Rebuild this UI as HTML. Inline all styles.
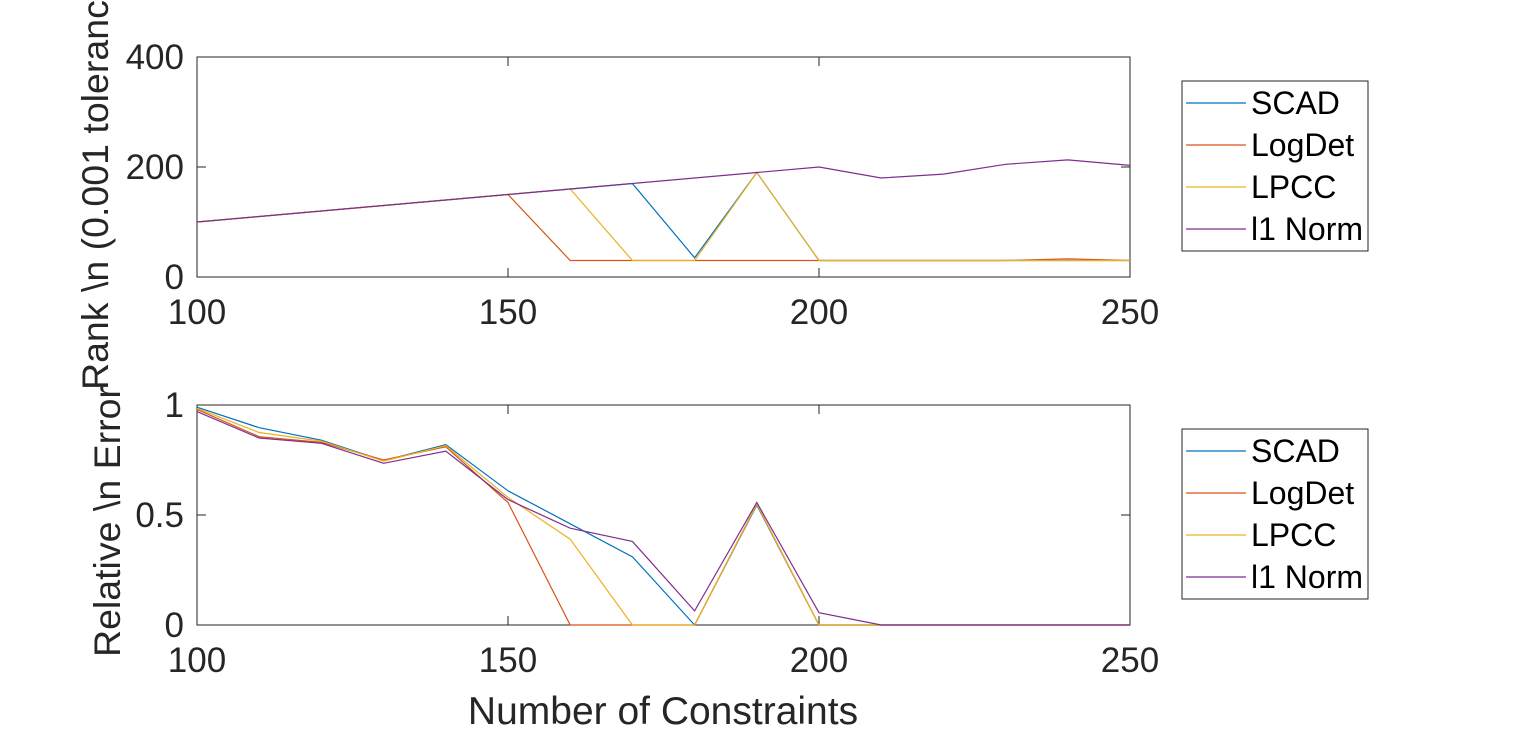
<!DOCTYPE html>
<html><head><meta charset="utf-8"><style>
body{margin:0;background:#fff;}
svg{display:block;font-family:"Liberation Sans",Arial,sans-serif;}
</style></head><body>
<svg id="chart" width="1514" height="733" viewBox="0 0 1514 733" xmlns="http://www.w3.org/2000/svg"></svg>
<script>
const xCats=[100,110,120,130,140,150,160,170,180,190,200,210,220,230,240,250];
const seriesNames=["SCAD","LogDet","LPCC","l1 Norm"];
const colors=["#0072BD","#D95319","#EDB120","#7E2F8E"];
const rankScad=[100,110,120,130,140,150,160,170,35,190,30,30,30,30,30,30];
const rankLogDet=[100,110,120,130,140,150,30,30,30,30,30,30,30,30,33,30];
const rankLpcc=[100,110,120,130,140,150,160,30,30,190,30,30,30,30,30,30];
const rankL1=[100,110,120,130,140,150,160,170,180,190,200,180,187,205,213,203];
const errScad=[0.99,0.897,0.84,0.747,0.82,0.61,0.46,0.31,0,0.545,0,0,0,0,0,0];
const errLogDet=[0.98,0.856,0.83,0.75,0.81,0.557,0,0,0,0.55,0,0,0,0,0,0];
const errLpcc=[0.985,0.875,0.836,0.745,0.815,0.58,0.39,0,0,0.55,0,0,0,0,0,0];
const errL1=[0.97,0.85,0.826,0.735,0.79,0.57,0.44,0.38,0.064,0.557,0.056,0,0,0,0,0];
const xTicks=[100,150,200,250];
const rankTicks=[0,200,400];
const errTicks=[0,0.5,1];
const errTickLabels=["0","0.5","1"];

const svg=document.getElementById('chart');
const NS="http://www.w3.org/2000/svg";
function mk(tag,attrs,parent){const e=document.createElementNS(NS,tag);for(const k in attrs)e.setAttribute(k,attrs[k]);(parent||svg).appendChild(e);return e;}
const X0=197,X1=1130;
function xs(v){return X0+(v-100)/150*(X1-X0);}

function panel(name,top,bottom,ymax,ticks,tickLabels,data,legTop){
  const g=mk('g',{});
  
  
  const ys=v=>bottom-v/ymax*(bottom-top);
  const box=mk('rect',{x:X0,y:top,width:X1-X0,height:bottom-top,fill:'#fff',stroke:'#262626','stroke-width':1},g);
  
  
  xTicks.forEach(t=>{
    const x=xs(t);
    mk('line',{x1:x,y1:bottom,x2:x,y2:bottom-9,stroke:'#262626'},g);
    mk('line',{x1:x,y1:top,x2:x,y2:top+9,stroke:'#262626'},g);
    const tx=mk('text',{x:x,y:bottom+47,'font-size':35,'text-anchor':'middle',fill:'#262626'},g);
    tx.textContent=t;
    
    
  });
  ticks.forEach((t,i)=>{
    const y=ys(t);
    mk('line',{x1:X0,y1:y,x2:X0+9,y2:y,stroke:'#262626'},g);
    mk('line',{x1:X1,y1:y,x2:X1-9,y2:y,stroke:'#262626'},g);
    const ty=mk('text',{x:X0-13,y:y+12,'font-size':35,'text-anchor':'end',fill:'#262626'},g);
    ty.textContent=tickLabels[i];
    
    
  });
  data.forEach((vals,si)=>{
    const pts=vals.map((v,i)=>xs(xCats[i]).toFixed(1)+','+ys(v).toFixed(1)).join(' ');
    const pl=mk('polyline',{points:pts,fill:'none',stroke:colors[si],'stroke-width':1.2},g);
    
    
  });
  const lg=mk('g',{},g);
  
  
  mk('rect',{x:1182,y:legTop,width:186,height:170,fill:'#fff',stroke:'#262626'},lg);
  seriesNames.forEach((n,si)=>{
    const y=legTop+22+si*42;
    const le=mk('g',{},lg);
    
    
    mk('line',{x1:1186,y1:y,x2:1246,y2:y,stroke:colors[si],'stroke-width':1.2},le);
    const t=mk('text',{x:1251,y:y+11,'font-size':32,fill:'#000'},le);
    t.textContent=n;
  });
}
panel('rank-panel',57,277,400,rankTicks,rankTicks.map(String),[rankScad,rankLogDet,rankLpcc,rankL1],81);
panel('error-panel',405,625,1,errTicks,errTickLabels,[errScad,errLogDet,errLpcc,errL1],429);

const yl1=mk('text',{x:0,y:0,'font-size':37.5,fill:'#262626',transform:'translate(108,390) rotate(-90)'});
yl1.textContent='Rank \\n (0.001 tolerance)';


const yl2=mk('text',{x:0,y:0,'font-size':37.5,fill:'#262626',transform:'translate(120,657) rotate(-90)'});
yl2.textContent='Relative \\n Error';


const xl=mk('text',{x:663,y:724,'font-size':39,'text-anchor':'middle',fill:'#262626'});
xl.textContent='Number of Constraints';


</script>
</body></html>
